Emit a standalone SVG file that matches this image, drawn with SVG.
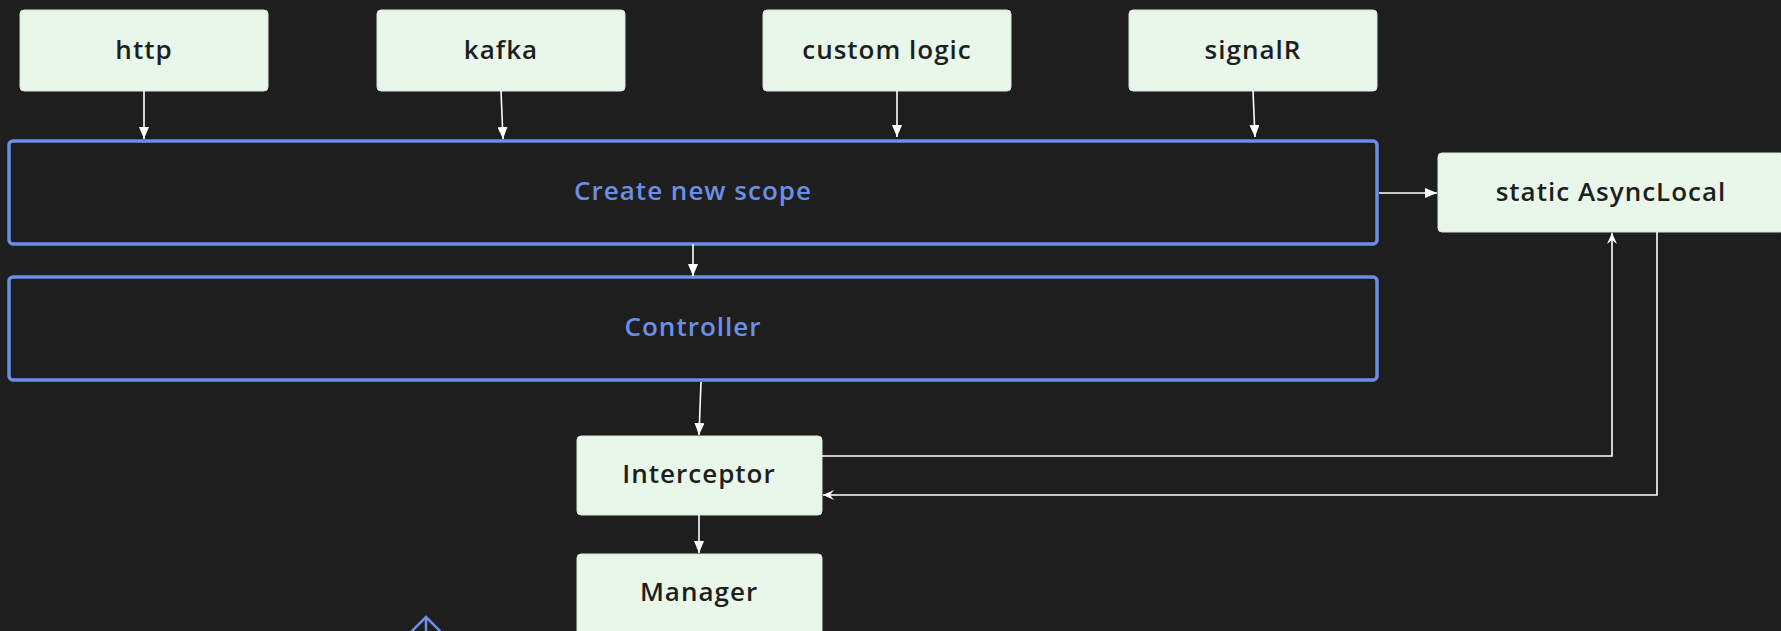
<svg xmlns="http://www.w3.org/2000/svg" width="1781" height="631" viewBox="0 0 1781 631">
<style>
.node{fill:#e8f7ea;stroke:#d8e6da;stroke-width:1}
.lbl{font-family:"Open Sans","Noto Sans",sans-serif;font-weight:600;font-size:26px;letter-spacing:1px;fill:#1e1e1e;text-anchor:middle;dominant-baseline:central}
.grp{fill:none;stroke:#6b8fe6;stroke-width:3.5}
.glbl{font-family:"Open Sans","Noto Sans",sans-serif;font-weight:600;font-size:26px;letter-spacing:1px;fill:#6b8fe6;text-anchor:middle;dominant-baseline:central}
.edge{fill:none;stroke:#ffffff;stroke-width:1.6}
</style>
<defs>
<marker id="tri" viewBox="0 0 12 10" refX="12" refY="5" markerWidth="12" markerHeight="10" markerUnits="userSpaceOnUse" orient="auto">
<path d="M0,0 L12,5 L0,10 Z" fill="#ffffff"/>
</marker>
<marker id="barb" viewBox="0 0 12 12" refX="11" refY="6" markerWidth="12" markerHeight="12" markerUnits="userSpaceOnUse" orient="auto">
<path d="M0,1 L11,6 L0,11 L4,6 Z" fill="#ffffff"/>
</marker>
</defs>
<rect width="1781" height="631" fill="#1e1e1e"/>
<g id="create-scope">
<rect class="grp" x="9" y="141" width="1368" height="103" rx="4"/>
<text class="glbl" x="693" y="190">Create new scope</text>
</g>
<g id="controller">
<rect class="grp" x="9" y="277" width="1368" height="103" rx="4"/>
<text class="glbl" x="693" y="326">Controller</text>
</g>
<g id="http">
<rect class="node" x="20" y="10" width="248" height="81" rx="4"/>
<text class="lbl" x="144" y="49">http</text>
</g>
<g id="kafka">
<rect class="node" x="377" y="10" width="248" height="81" rx="4"/>
<text class="lbl" x="501" y="49">kafka</text>
</g>
<g id="custom-logic">
<rect class="node" x="763" y="10" width="248" height="81" rx="4"/>
<text class="lbl" x="887" y="49">custom logic</text>
</g>
<g id="signalR">
<rect class="node" x="1129" y="10" width="248" height="81" rx="4"/>
<text class="lbl" x="1253" y="49">signalR</text>
</g>
<g id="static-asynclocal">
<rect class="node" x="1438" y="153" width="346" height="79" rx="4"/>
<text class="lbl" x="1611" y="191">static AsyncLocal</text>
</g>
<g id="interceptor">
<rect class="node" x="577" y="436" width="245" height="79" rx="4"/>
<text class="lbl" x="699" y="473">Interceptor</text>
</g>
<g id="manager">
<rect class="node" x="577" y="554" width="245" height="85" rx="4"/>
<text class="lbl" x="699" y="591">Manager</text>
</g>
<g id="connectors">
<path class="edge" d="M144,91 L144,139" marker-end="url(#tri)"/>
<path class="edge" d="M501,91 L503,139" marker-end="url(#tri)"/>
<path class="edge" d="M897,91 L897,137" marker-end="url(#tri)"/>
<path class="edge" d="M1253,91 L1255,137" marker-end="url(#tri)"/>
<path class="edge" d="M693,244 L693,276" marker-end="url(#tri)"/>
<path class="edge" d="M1379,193 L1437,193" marker-end="url(#tri)"/>
<path class="edge" d="M701,382 L699,435" marker-end="url(#tri)"/>
<path class="edge" d="M699,515 L699,553" marker-end="url(#tri)"/>
<path class="edge" d="M822,456 L1612,456 L1612,233" marker-end="url(#barb)"/>
<path class="edge" d="M1657,232 L1657,495 L823,495" marker-end="url(#barb)"/>
<g fill="none" stroke="#6b8fe6" stroke-width="2.5" stroke-linecap="round">
<path d="M426,617 L426,640"/>
<path d="M412,631 L426,617 L440,631"/>
</g>
</g>
</svg>
